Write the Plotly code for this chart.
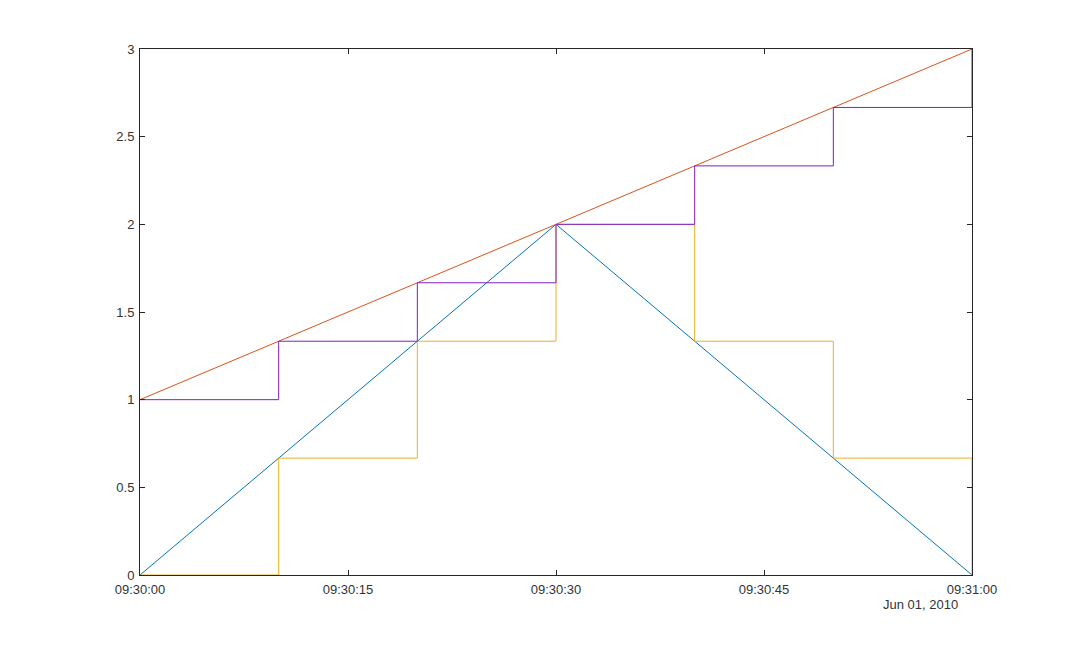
import plotly.graph_objects as go
import pandas as pd

# sample times (every 10 s)
times = pd.date_range("2010-06-01 09:30:00", periods=7, freq="10s")
tri_vals = [0, 0.6667, 1.3333, 2, 1.3333, 0.6667, 0]
ramp_vals = [1, 1.3333, 1.6667, 2, 2.3333, 2.6667, 3]

fig = go.Figure()
fig.add_trace(go.Scatter(x=times, y=tri_vals, mode="lines",
                         line=dict(color="#0072BD", width=1)))
fig.add_trace(go.Scatter(x=times, y=ramp_vals, mode="lines",
                         line=dict(color="#D95319", width=1)))
fig.add_trace(go.Scatter(x=times, y=tri_vals, mode="lines", line_shape="hv",
                         line=dict(color="#EDB120", width=1)))
fig.add_trace(go.Scatter(x=times, y=ramp_vals, mode="lines", line_shape="hv",
                         line=dict(color="#7E1FD0", width=1)))

axis_style = dict(
    showgrid=False, zeroline=False, showline=True, mirror="ticks",
    linecolor="#262626", linewidth=1, ticks="inside", ticklen=5,
    tickcolor="#262626", tickfont=dict(family="Liberation Sans, Arial", size=13, color="#333333"),
)

fig.update_xaxes(range=["2010-06-01 09:30:00", "2010-06-01 09:31:00"],
                 tickformat="%H:%M:%S", dtick=15000, ticklabelstandoff=2,
                 tick0="2010-06-01 09:30:00", **axis_style)
fig.update_yaxes(range=[0, 3], dtick=0.5, ticklabelstandoff=2, **axis_style)

fig.add_annotation(text="Jun 01, 2010", xref="paper", yref="paper",
                   x=0.986, y=-0.038, xanchor="right", yanchor="top",
                   showarrow=False,
                   font=dict(family="Liberation Sans, Arial", size=13, color="#333333"))

# page body adds an 8px offset, so shift margins to compensate
fig.update_layout(
    width=1074, height=647,
    margin=dict(l=132, r=110, t=41, b=80),
    plot_bgcolor="white", paper_bgcolor="white",
    showlegend=False,
)

fig.write_html("out.html")
